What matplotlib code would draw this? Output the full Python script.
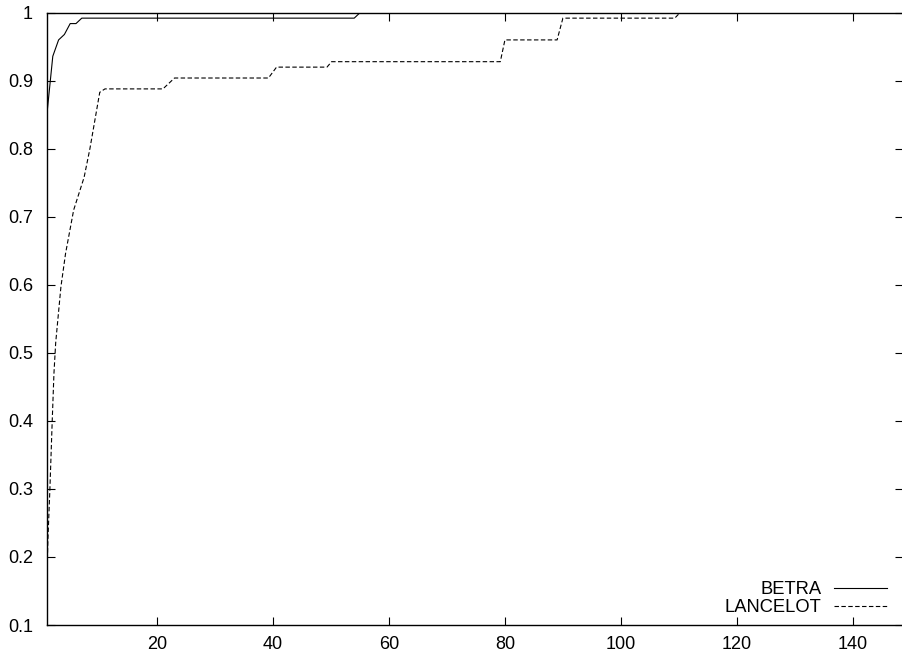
import matplotlib
import matplotlib.pyplot as plt
from matplotlib.ticker import FixedLocator, FuncFormatter

matplotlib.use("Agg")

# Series
betra_x = [1, 2, 3, 4, 5, 6, 7, 54, 55, 148]
betra_y = [0.852, 0.936, 0.960, 0.968, 0.984, 0.984, 0.992, 0.992, 1.0, 1.0]

lancelot_x = [1.0, 1.15, 1.5, 1.9, 2.2, 2.5, 3.4, 4.2, 5.6, 7.4, 8.4, 10.1, 11,
              21, 23, 39.2, 40.6, 49.3, 50.1, 79.2, 80, 89, 90, 109.3, 110.2, 148]
lancelot_y = [0.176, 0.224, 0.30, 0.40, 0.47, 0.515, 0.597, 0.646, 0.710, 0.758, 0.80, 0.883, 0.888,
              0.888, 0.904, 0.904, 0.920, 0.920, 0.928, 0.928, 0.960, 0.960, 0.992, 0.992, 1.0, 1.0]

x_ticks = [20, 40, 60, 80, 100, 120, 140]
y_ticks = [0.1, 0.2, 0.3, 0.4, 0.5, 0.6, 0.7, 0.8, 0.9, 1.0]

plt.rcParams["font.family"] = ["Liberation Sans", "DejaVu Sans"]

fig = plt.figure(figsize=(9.02, 6.57), dpi=100)
W, H = 902.0, 657.0
left_px, right_px, top_px, bottom_px = 47.0, 903.0, 12.7, 625.0
ax = fig.add_axes([left_px / W, (H - bottom_px) / H,
                   (right_px - left_px) / W, (bottom_px - top_px) / H])

ax.plot(betra_x, betra_y, color="black", lw=0.8, label="BETRA")
ax.plot(lancelot_x, lancelot_y, color="black", lw=0.8, dashes=(4.0, 2.2),
        label="LANCELOT")

ax.set_xlim(1, (right_px - 40.7) / 5.8)
ax.set_ylim(0.1, 1.0)

ax.xaxis.set_major_locator(FixedLocator(x_ticks))
ax.yaxis.set_major_locator(FixedLocator(y_ticks))
ax.yaxis.set_major_formatter(FuncFormatter(lambda v, p: f"{v:g}"))

ax.tick_params(direction="in", length=5.8, width=0.8, labelsize=13,
               top=True, right=True, colors="black")
ax.tick_params(axis="y", pad=10)
ax.tick_params(axis="x", pad=8)

for s in ax.spines.values():
    s.set_linewidth(1.0)
    s.set_color("black")

leg = ax.legend(loc="lower right", bbox_to_anchor=(0.981, 0.014),
                frameon=False, markerfirst=False, fontsize=13.2,
                handlelength=2.9, handletextpad=0.65, labelspacing=0.08,
                borderpad=0, borderaxespad=0)

fig.savefig("out.png", dpi=100)
plt.close(fig)
